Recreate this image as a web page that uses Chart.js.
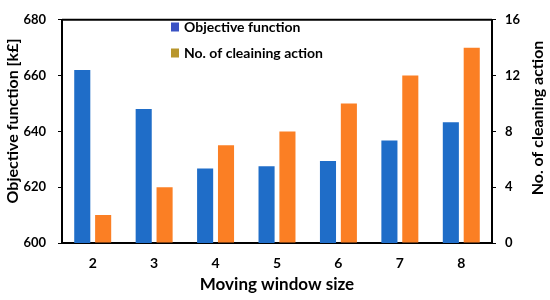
<!DOCTYPE html>
<html>
<head>
<meta charset="utf-8">
<script src="https://cdn.jsdelivr.net/npm/chart.js@4.4.1/dist/chart.umd.min.js"></script>
<style>
  html, body { margin: 0; padding: 0; background: #fff; }
  #wrap { width: 550px; height: 300px; }
</style>
</head>
<body>
<div id="wrap"><canvas id="grafico" width="550" height="300"></canvas></div>
<script>
// datos
const ventanas = ['2', '3', '4', '5', '6', '7', '8'];
const funcionObjetivo = [662, 648, 626.7, 627.5, 629.4, 636.7, 643.3];
const accionesLimpieza = [2, 4, 7, 8, 10, 12, 14];
const ticksIzq = [600, 620, 640, 660, 680];
const ticksDer = [0, 4, 8, 12, 16];
const tituloIzq = 'Objective function [k£]';
const tituloDer = 'No. of cleaning action';

const fuente = 'Lato, "Open Sans", sans-serif';

// marco superior, titulos verticales y leyenda dentro del area
const marcoYLeyenda = {
    id: 'marcoYLeyenda',
    afterDraw(chart) {
        const ctx = chart.ctx;
        const a = chart.chartArea;
        ctx.save();
        ctx.strokeStyle = '#000';
        ctx.lineWidth = 2;
        ctx.beginPath();
        ctx.moveTo(a.left, a.top);
        ctx.lineTo(a.right, a.top);
        ctx.stroke();

        // titulos de ejes (ambos leen de abajo hacia arriba)
        ctx.fillStyle = '#000';
        ctx.font = 'bold 16px ' + fuente;
        ctx.textAlign = 'center';
        ctx.textBaseline = 'middle';
        [[13, 121, tituloIzq], [538, 118, tituloDer]].forEach(([x, y, t]) => {
            ctx.save();
            ctx.translate(x, y);
            ctx.rotate(-Math.PI / 2);
            ctx.fillText(t, 0, 0);
            ctx.restore();
        });

        const items = [
            { texto: chart.data.datasets[0].label, color: '#3a52c4' },
            { texto: chart.data.datasets[1].label, color: '#b8962c' }
        ];
        ctx.font = 'bold 14px ' + fuente;
        ctx.textAlign = 'left';
        items.forEach((it, i) => {
            const y = 27 + i * 26;
            ctx.fillStyle = it.color;
            ctx.fillRect(171, y - 4.5, 8, 9);
            ctx.fillStyle = '#000';
            ctx.fillText(it.texto, 184, y);
        });
        ctx.restore();
    }
};

new Chart(document.getElementById('grafico').getContext('2d'), {
    type: 'bar',
    data: {
        labels: ventanas,
        datasets: [{
            label: 'Objective function',
            data: funcionObjetivo,
            backgroundColor: '#1f6dc8',
            yAxisID: 'yIzq',
            categoryPercentage: 0.68,
            barPercentage: 0.77
        }, {
            label: 'No. of cleaining action',
            data: accionesLimpieza,
            backgroundColor: '#fb7f24',
            yAxisID: 'yDer',
            categoryPercentage: 0.68,
            barPercentage: 0.77
        }]
    },
    options: {
        responsive: false,
        animation: false,
        layout: { padding: { top: 10, left: 0, right: 0, bottom: 0 } },
        plugins: {
            legend: { display: false },
            tooltip: { enabled: false }
        },
        scales: {
            x: {
                grid: { display: false },
                border: { display: true, color: '#000', width: 2 },
                ticks: { color: '#000', font: { family: fuente, size: 14, weight: 'bold' }, padding: 4 },
                title: {
                    display: true,
                    text: 'Moving window size',
                    color: '#000',
                    font: { family: fuente, size: 17, weight: 'bold' },
                    padding: { top: 4, bottom: 5 }
                },
                afterFit(s) { s.height = 57; }
            },
            yIzq: {
                position: 'left',
                min: 600,
                max: 680,
                afterBuildTicks(s) { s.ticks = ticksIzq.map(v => ({ value: v })); },
                grid: { drawOnChartArea: false, drawTicks: true, tickLength: 4, color: '#000' },
                border: { display: true, color: '#000', width: 2 },
                ticks: { color: '#000', font: { family: fuente, size: 13, weight: 'bold' }, padding: 12 },
                afterFit(s) { s.width = 62; }
            },
            yDer: {
                position: 'right',
                min: 0,
                max: 16,
                afterBuildTicks(s) { s.ticks = ticksDer.map(v => ({ value: v })); },
                grid: { drawOnChartArea: false, drawTicks: true, tickLength: 4, color: '#000' },
                border: { display: true, color: '#000', width: 2 },
                ticks: { color: '#000', font: { family: fuente, size: 13, weight: 'bold' }, padding: 9 },
                afterFit(s) { s.width = 58; }
            }
        }
    },
    plugins: [marcoYLeyenda]
});
</script>
</body>
</html>
